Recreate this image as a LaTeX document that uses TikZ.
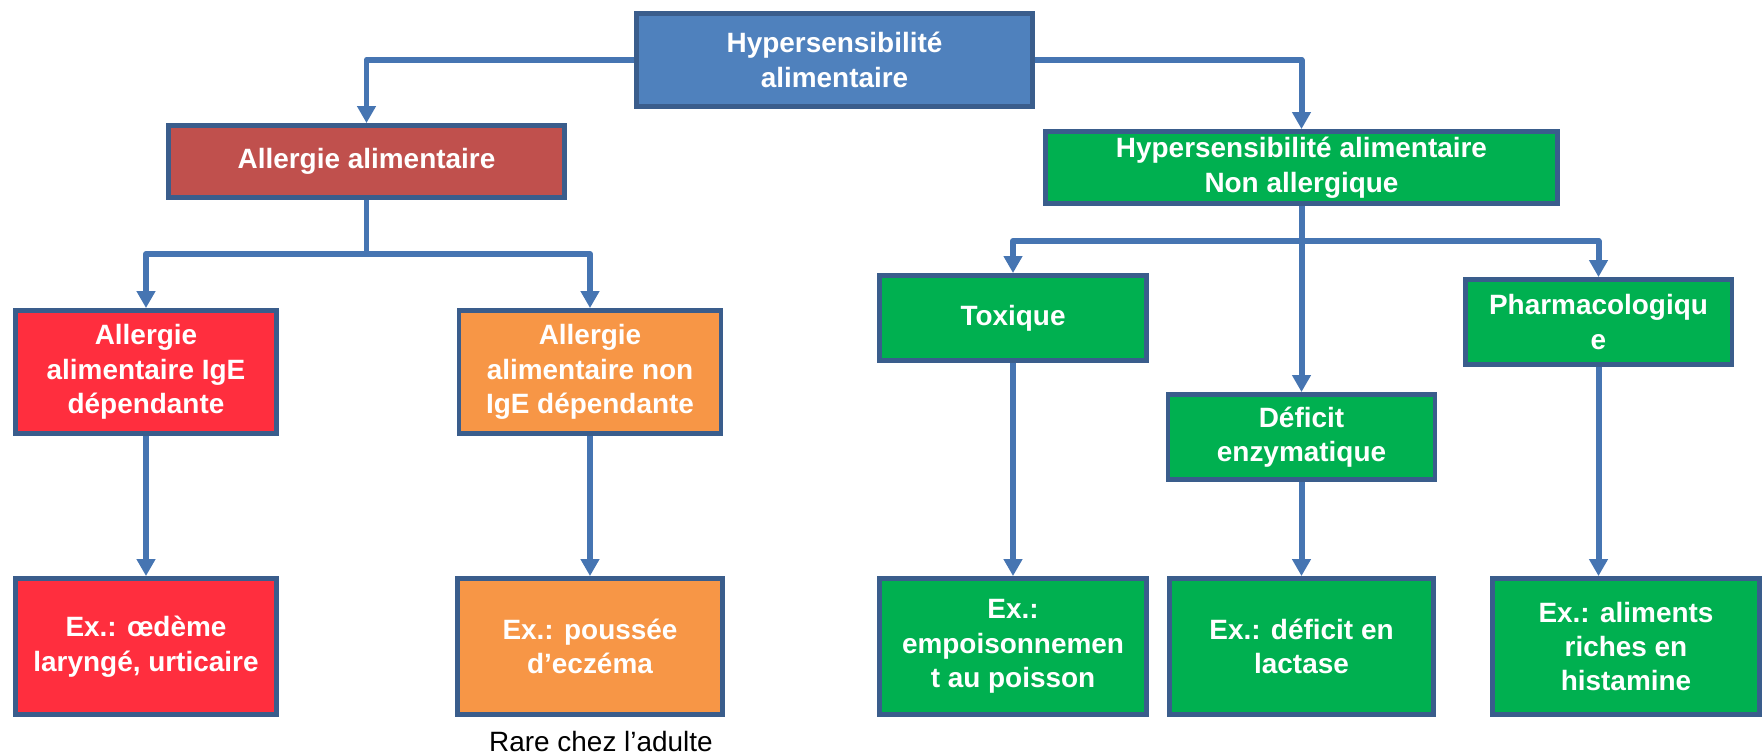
\documentclass[tikz,border=0pt]{standalone}
\usepackage{fontspec}
\setmainfont{Liberation Sans}
\usetikzlibrary{arrows.meta}
\definecolor{topblue}{HTML}{4F81BD}
\definecolor{edgeblue}{HTML}{3A5D8C}
\definecolor{linkblue}{HTML}{4675B2}
\definecolor{allred}{HTML}{C0504D}
\definecolor{igered}{HTML}{FF2E3E}
\definecolor{igeorange}{HTML}{F79646}
\definecolor{nagreen}{HTML}{00B050}

\begin{document}
\begin{tikzpicture}[x=0.02cm,y=-0.02cm,
    box/.style={draw=edgeblue,line width=2.8pt,inner sep=2pt,align=center,text=white,
        font=\bfseries\fontsize{15.9}{19.6}\selectfont},
    link/.style={draw=linkblue,line width=3.4pt,line join=round},
    arr/.style={link,-{Triangle[width=0.36cm,length=0.34cm]}}]
    \useasboundingbox (0,0) rectangle (1762,755);
    \node[box,fill=topblue,minimum width=7.92cm,minimum height=1.86cm] (top) at (834.5,60) {Hypersensibilité\\alimentaire};
    \node[box,fill=allred,minimum width=7.92cm,minimum height=1.44cm] (allerg) at (366.5,161.5) {Allergie alimentaire};
    \node[box,fill=nagreen,minimum width=10.24cm,minimum height=1.44cm] (nonall) at (1301.5,167.5) {Hypersensibilité alimentaire\\Non allergique};
    \node[box,fill=igered,minimum width=5.22cm,minimum height=2.46cm] (ige) at (146,372) {Allergie\\alimentaire IgE\\dépendante};
    \node[box,fill=igeorange,minimum width=5.24cm,minimum height=2.46cm] (nonige) at (590,372) {Allergie\\alimentaire non\\IgE dépendante};
    \node[box,fill=nagreen,minimum width=5.34cm,minimum height=1.7cm] (toxique) at (1013,318) {Toxique};
    \node[box,fill=nagreen,minimum width=5.34cm,minimum height=1.7cm] (pharma) at (1598.5,322) {Pharmacologiqu\\e};
    \node[box,fill=nagreen,minimum width=5.34cm,minimum height=1.7cm] (deficit) at (1301.5,437) {Déficit\\enzymatique};
    \node[box,fill=igered,minimum width=5.22cm,minimum height=2.72cm] (exige) at (146,646.5) {Ex.: œdème\\laryngé, urticaire};
    \node[box,fill=igeorange,minimum width=5.3cm,minimum height=2.72cm] (exnonige) at (590,646.5) {Ex.: poussée\\d’eczéma};
    \node[box,fill=nagreen,minimum width=5.34cm,minimum height=2.72cm] (extox) at (1013,646.5) {Ex.:\\empoisonnemen\\t au poisson};
    \node[box,fill=nagreen,minimum width=5.28cm,minimum height=2.72cm] (exdef) at (1301.5,646.5) {Ex.: déficit en\\lactase};
    \node[box,fill=nagreen,minimum width=5.34cm,minimum height=2.72cm] (exphar) at (1626,646.5) {Ex.: aliments\\riches en\\histamine};
    \node[font=\fontsize{15.9}{19.3}\selectfont] (rare) at (601,742) {Rare chez l’adulte};
    % top level
    \draw[arr] (top.west) -| (allerg.north);
    \draw[arr] (top.east) -| (nonall.north);
    % allergic branch
    \coordinate (abus) at (366.5,254);
    \draw[link] (allerg.south) -- (abus);
    \draw[arr] (abus) -| (ige.north);
    \draw[arr] (abus) -| (nonige.north);
    \draw[arr] (ige.south) -- (exige.north);
    \draw[arr] (nonige.south) -- (exnonige.north);
    % non allergic branch
    \coordinate (nbus) at (1301.5,241);
    \draw[arr] (nonall.south) -- (deficit.north);
    \draw[arr] (nbus) -| (toxique.north);
    \draw[arr] (nbus) -| (pharma.north);
    \draw[arr] (toxique.south) -- (extox.north);
    \draw[arr] (deficit.south) -- (exdef.north);
    \draw[arr] (pharma.south) -- (pharma.south |- exphar.north);
\end{tikzpicture}
\end{document}
